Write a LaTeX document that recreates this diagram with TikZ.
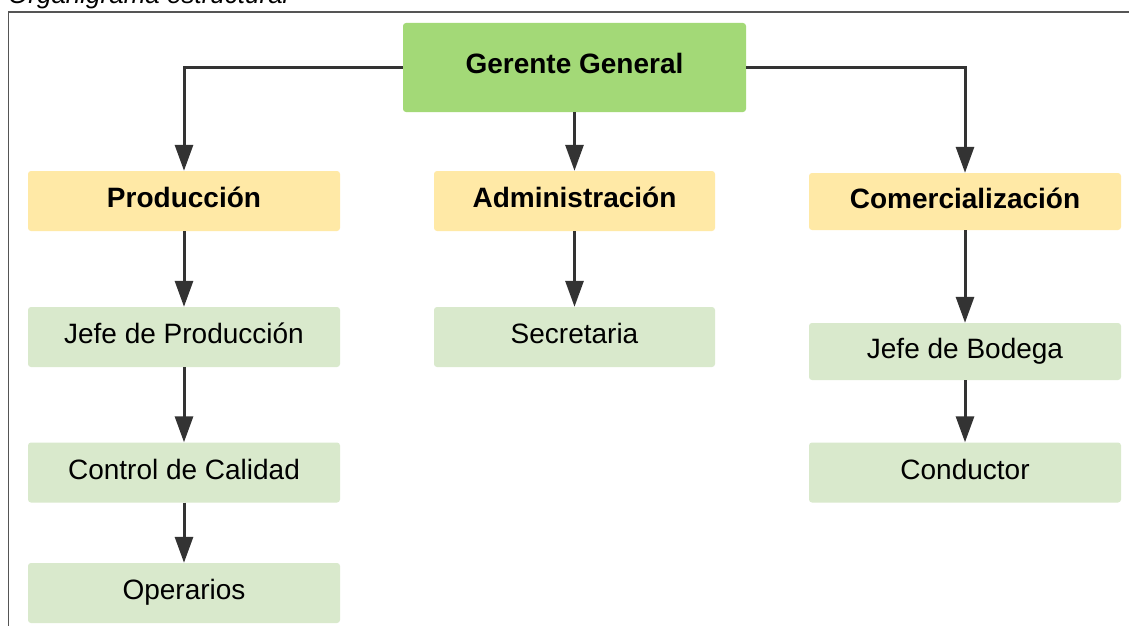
\documentclass[tikz,border=0pt]{standalone}
\usepackage{fontspec}
\setmainfont{Liberation Sans}
\usetikzlibrary{arrows.meta}
\definecolor{topgreen}{HTML}{A3D977}
\definecolor{deptyellow}{HTML}{FFE9A6}
\definecolor{lightgreen}{HTML}{D9E9CC}
\definecolor{linegray}{HTML}{333333}
\definecolor{framegray}{HTML}{555555}
\tikzset{
  box/.style={rectangle, rounded corners=3pt, inner sep=0pt, draw=none,
    text height=20pt, text depth=7pt, font=\fontsize{28}{34}\selectfont},
  topbox/.style={box, fill=topgreen, font=\fontsize{28}{34}\selectfont\bfseries},
  deptbox/.style={box, fill=deptyellow, font=\fontsize{28}{34}\selectfont\bfseries},
  rolebox/.style={box, fill=lightgreen},
  conn/.style={draw=linegray, line width=3pt, -{Triangle[length=26pt,width=18pt]}}
}
\begin{document}
\begin{tikzpicture}[x=1pt,y=-1pt]
\useasboundingbox (0,0) rectangle (1129,626);
\fill[white] (0,0) rectangle (1129,626);
% title (cut off at top, as in the reference)
\node[anchor=base west, inner sep=0pt, font=\fontsize{26}{30}\selectfont\itshape, text=black] (title) at (8,4) {Organigrama estructural};
% frame
\draw[framegray, line width=1.5pt] (1129,12) -- (8.5,12) -- (8.5,626);
% nodes
\node[topbox, minimum width=343pt, minimum height=89pt] (gg) at (574.5,67.5) {Gerente General};
\node[deptbox, minimum width=312pt, minimum height=60pt] (prod) at (184,201) {Producción};
\node[deptbox, minimum width=281pt, minimum height=60pt] (adm) at (574.5,201) {Administración};
\node[deptbox, minimum width=312pt, minimum height=57pt] (com) at (965,201.5) {Comercialización};
\node[rolebox, minimum width=312pt, minimum height=60pt] (jp) at (184,337) {Jefe de Producción};
\node[rolebox, minimum width=281pt, minimum height=60pt] (sec) at (574.5,337) {Secretaria};
\node[rolebox, minimum width=312pt, minimum height=57pt] (jb) at (965,351.5) {Jefe de Bodega};
\node[rolebox, minimum width=312pt, minimum height=60pt] (cc) at (184,472.5) {Control de Calidad};
\node[rolebox, minimum width=312pt, minimum height=60pt] (op) at (184,593) {Operarios};
\node[rolebox, minimum width=312pt, minimum height=60pt] (cond) at (965,472.5) {Conductor};
% connectors
\draw[conn] (gg.west) -| (prod.north);
\draw[conn] (gg.east) -| (com.north);
\draw[conn] (gg.south) -- (adm.north);
\draw[conn] (prod.south) -- (jp.north);
\draw[conn] (jp.south) -- (cc.north);
\draw[conn] (cc.south) -- (op.north);
\draw[conn] (adm.south) -- (sec.north);
\draw[conn] (com.south) -- (jb.north);
\draw[conn] (jb.south) -- (cond.north);
\end{tikzpicture}
\end{document}
